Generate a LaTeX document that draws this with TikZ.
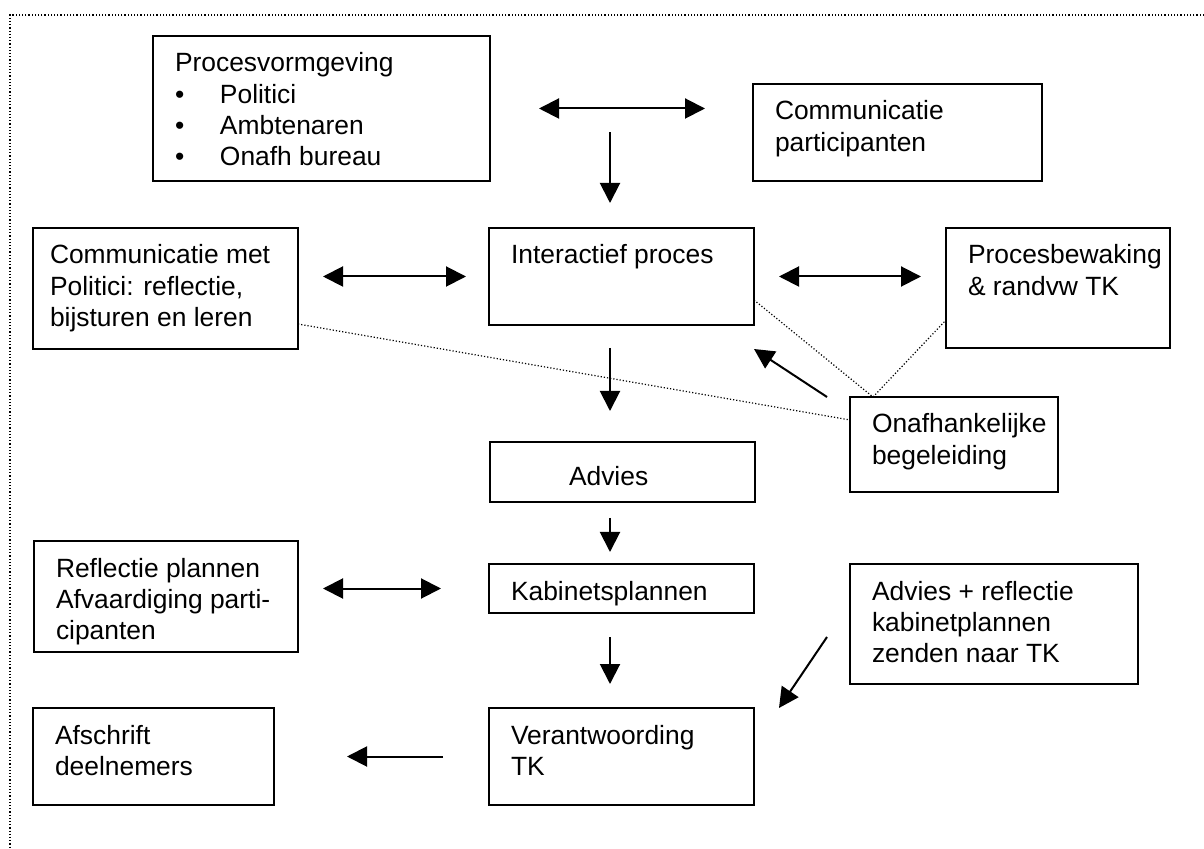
\documentclass[tikz,border=0pt]{standalone}
\usepackage{fontspec}
\setmainfont{Liberation Sans}
\usetikzlibrary{arrows.meta}

% tekst bovenaan in een vak: [basislijn]{breedte}{hoogte}{tekst}
\newcommand{\vaktekst}[4][18pt]{\parbox[t][#3][t]{#2}{\raggedright\hyphenpenalty=10000\rule{0pt}{#1}#4}}
\newcommand{\opsom}{\makebox[22.5pt][l]{\textbullet}}

\tikzset{
  vak/.style={draw, line width=0.9pt, anchor=north west, inner xsep=11pt, inner ysep=0pt, outer sep=0pt},
  pijl/.style={line width=1pt, ->},
  stip/.style={line width=0.6pt, densely dotted}
}

\begin{document}
\begin{tikzpicture}[x=0.5pt, y=-0.5pt, >={Triangle[length=10pt,width=10pt]},
    every node/.style={font=\fontsize{13.2}{15.6}\selectfont}]
  \useasboundingbox (0,0) rectangle (1204,849);
  % kader
  \draw[stip] (1204,15) -- (10,15) -- (10,849);
  % vakken
  \node[vak] (proc) at (153,36) {\vaktekst{146.5pt}{72.5pt}{Procesvormgeving\\
      \opsom Politici\\ \opsom Ambtenaren\\ \opsom Onafh bureau}};
  \node[vak] (compart) at (753,84) {\vaktekst{122.5pt}{48.5pt}{Communicatie\\participanten}};
  \node[vak, inner xsep=8.5pt] (commet) at (33,228) {\vaktekst{115.5pt}{60.5pt}{Communicatie met\\
      Politici: reflectie,\\bijsturen en leren}};
  \node[vak] (interact) at (489,228) {\vaktekst{110.5pt}{48.5pt}{Interactief proces}};
  \node[vak] (bewaking) at (946,228) {\vaktekst{90pt}{60pt}{Procesbewaking\\\& randvw TK}};
  \node[vak] (advies) at (490,442) {\vaktekst[22pt]{110.5pt}{30pt}{\hspace*{28.5pt}Advies}};
  \node[vak] (onafh) at (850,397) {\vaktekst{82pt}{47.5pt}{Onafhankelijke\\begeleiding}};
  \node[vak] (reflectie) at (34,541) {\vaktekst{110pt}{55.5pt}{Reflectie plannen\\
      Afvaardiging parti-\\cipanten}};
  \node[vak] (kabinet) at (489,564) {\vaktekst{110.5pt}{24.5pt}{Kabinetsplannen}};
  \node[vak] (advref) at (850,564) {\vaktekst{122pt}{60pt}{Advies + reflectie\\
      kabinetplannen\\zenden naar TK}};
  \node[vak] (afschrift) at (33,708) {\vaktekst{98.5pt}{48.5pt}{Afschrift\\deelnemers}};
  \node[vak] (verantw) at (489,708) {\vaktekst{110.5pt}{48.5pt}{Verantwoording\\TK}};
  % pijlen
  \coordinate (spil) at (610,0);
  \draw[pijl, <->, shorten <=24.5pt, shorten >=24pt] (proc.east) -- (proc.east -| compart.west);
  \draw[pijl, shorten >=12.5pt] (spil |- compart.west) -- (spil |- interact.north);
  \draw[pijl, <->, shorten <=12.5pt, shorten >=11.5pt] (commet.east |- interact.west) -- (interact.west);
  \draw[pijl, <->, shorten <=12.5pt, shorten >=12.5pt] (interact.east) -- (interact.east -| bewaking.west);
  \draw[pijl, shorten <=11.5pt, shorten >=15.5pt] (spil |- interact.south) -- (spil |- advies.north);
  \draw[pijl, shorten <=8pt, shorten >=6pt] (spil |- advies.south) -- (spil |- kabinet.north);
  \draw[pijl, <->, shorten <=12.5pt, shorten >=24pt] (reflectie.east |- kabinet.west) -- (kabinet.west);
  \draw[pijl, shorten <=12pt, shorten >=12pt] (spil |- kabinet.south) -- (spil |- verantw.north);
  \draw[pijl, shorten <=23pt, shorten >=36.5pt] (verantw.west) -- (afschrift.east |- verantw.west);
  \draw[pijl] ([xshift=-11.5pt]onafh.north west) -- ([yshift=-12pt]interact.south east);
  \draw[pijl] ([xshift=-11.5pt,yshift=-6.5pt]advref.west) -- ([xshift=12.5pt]verantw.north east);
  % stippellijnen naar begeleiding
  \draw[stip] ([yshift=-11.75pt]interact.east) -- ([xshift=11.5pt]onafh.north west)
    -- ([yshift=-16pt]bewaking.west);
  \draw[stip] ([yshift=-17.75pt]commet.east) -- ([yshift=-11.5pt]onafh.north west);
\end{tikzpicture}
\end{document}
